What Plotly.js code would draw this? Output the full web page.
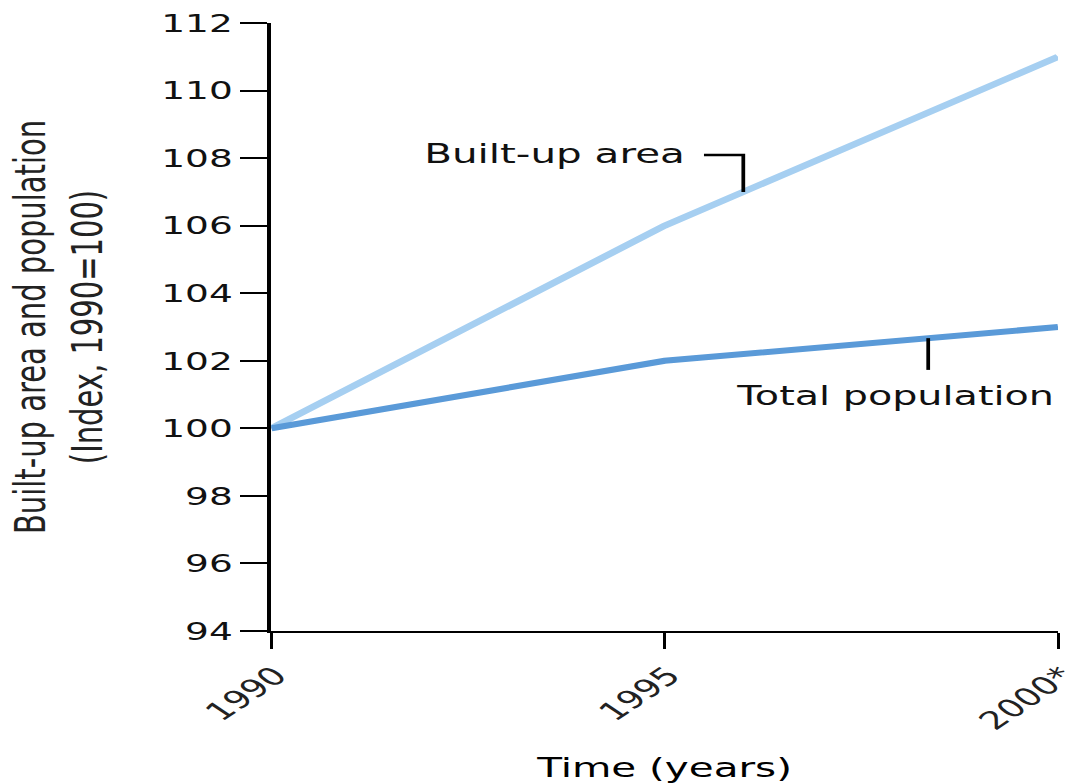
<!DOCTYPE html>
<html>
<head>
<meta charset="utf-8">
<script src="https://cdn.plot.ly/plotly-3.0.1.min.js"></script>
<style>
  html, body { margin: 0; padding: 0; background: #fff; overflow: hidden; }
  #chart { width: 716px; height: 783px; transform: scaleX(1.4986); transform-origin: 0 0; }
</style>
</head>
<body>
<div id="chart"></div>
<script>
// Data
const years = [1990, 1995, 2000];
const tickLabels = ['1990', '1995', '2000*'];
const builtUpArea = [100, 106, 111];
const totalPopulation = [100, 102, 103];
const yTicks = [94, 96, 98, 100, 102, 104, 106, 108, 110, 112];

const FONT = '"DejaVu Sans", Verdana, sans-serif';

const traces = [
  {
    x: years, y: builtUpArea, name: 'Built-up area', type: 'scatter', mode: 'lines',
    line: { color: '#a6cff1', width: 6 }, hoverinfo: 'x+y'
  },
  {
    x: years, y: totalPopulation, name: 'Total population', type: 'scatter', mode: 'lines',
    line: { color: '#5a9ad8', width: 6 }, hoverinfo: 'x+y'
  }
];

const layout = {
  width: 716, height: 783,
  margin: { l: 181, r: 10, t: 23, b: 152 },
  paper_bgcolor: '#ffffff', plot_bgcolor: '#ffffff',
  showlegend: false,
  font: { family: FONT, color: '#111' },
  xaxis: {
    range: [1990, 2000], tickvals: years, ticktext: tickLabels,
    tickangle: -45, ticks: 'outside', ticklen: 16, tickwidth: 2, tickcolor: '#000',
    showline: true, linecolor: '#000', linewidth: 2, showgrid: false, zeroline: false,
    tickfont: { family: FONT, size: 25, color: '#222' },
    ticklabelstandoff: 2, ticklabelshift: 3, ticklabeloverflow: 'allow',
    title: { text: 'Time (years)', font: { family: FONT, size: 27, color: '#000' }, standoff: 37 },
    automargin: false
  },
  yaxis: {
    range: [94, 112], tickvals: yTicks,
    ticks: 'outside', ticklen: 18, tickwidth: 2, tickcolor: '#000',
    showline: true, linecolor: '#000', linewidth: 2.7, showgrid: false, zeroline: false,
    tickfont: { family: FONT, size: 25, color: '#111' },
    ticklabelstandoff: 0,
    title: { text: 'Built-up area and population<br>(Index, 1990=100)', font: { family: FONT, size: 29, color: '#222' }, standoff: 31 },
    automargin: false
  },
  annotations: [
    { x: 1993.6, y: 108.15, xref: 'x', yref: 'y', text: 'Built-up area', showarrow: false,
      xanchor: 'center', yanchor: 'middle', font: { family: FONT, size: 27, color: '#111' } },
    { x: 1997.93, y: 100.96, xref: 'x', yref: 'y', text: 'Total population', showarrow: false,
      xanchor: 'center', yanchor: 'middle', font: { family: FONT, size: 26.5, color: '#111' } }
  ],
  shapes: [
    { type: 'path', xref: 'x', yref: 'y', path: 'M 1995.5 108.09 L 1996 108.09 L 1996 107.0',
      line: { color: '#000', width: 2.5 } },
    { type: 'line', xref: 'x', yref: 'y', x0: 1998.35, x1: 1998.35, y0: 102.67, y1: 101.73,
      line: { color: '#000', width: 2.5 } }
  ]
};

Plotly.newPlot('chart', traces, layout, { displayModeBar: false, staticPlot: true });
</script>
</body>
</html>
